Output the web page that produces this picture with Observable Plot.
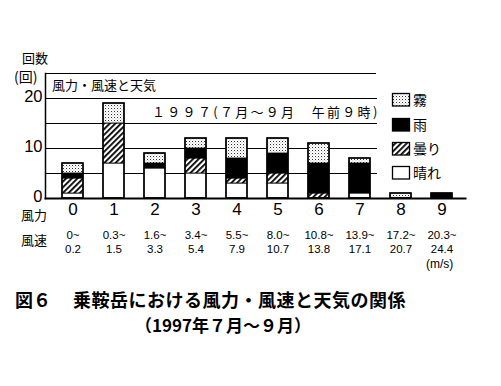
<!DOCTYPE html>
<html><head><meta charset="utf-8">
<script src="https://cdn.jsdelivr.net/npm/d3@7"></script>
<script src="https://cdn.jsdelivr.net/npm/@observablehq/plot@0.6"></script>
<style>
body{margin:0;background:#fff;}
#wrap{position:relative;width:501px;height:386px;font-family:"Noto Sans CJK JP",sans-serif;color:#000;overflow:hidden;}
#wrap svg.main{position:absolute;left:0;top:0;}
.t{position:absolute;white-space:nowrap;line-height:1;}
</style></head><body><div id="wrap"></div>
<script>
// ---- data ----
const forces = ["0","1","2","3","4","5","6","7","8","9"];
const speeds = ["0~\n0.2","0.3~\n1.5","1.6~\n3.3","3.4~\n5.4","5.5~\n7.9","8.0~\n10.7","10.8~\n13.8","13.9~\n17.1","17.2~\n20.7","20.3~\n24.4"];
const weatherTypes = ["晴れ","曇り","雨","霧"];
const clearDays  = [1,7,6,5,3,3,0,1,0,0];
const cloudyDays = [3,8,0,3,1,2,1,0,0,0];
const rainDays   = [1,0,1,2,4,4,6,6,0,1];
const fogDays    = [2,4,2,2,4,3,4,1,1,0];
const yTicks = [0,10,20];
const gridTicks = [5,10,15,20];
const legendOrder = ["霧","雨","曇り","晴れ"];

const series = [clearDays, cloudyDays, rainDays, fogDays];
const table = [];
forces.forEach((f,i)=>weatherTypes.forEach((w,j)=>{ if(series[j][i]>0) table.push({force:f,type:w,count:series[j][i]}); }));
const totals = forces.map((f,i)=>({force:f,total:series.reduce((s,a)=>s+a[i],0)}));
const fills = {"晴れ":"white","曇り":"url(#hatch)","雨":"black","霧":"url(#dots)"};

const numFont = '"Liberation Sans", Arial, sans-serif';
const plot = Plot.plot({
  width: 501, height: 386,
  marginLeft: 45, marginRight: 36, marginTop: 73, marginBottom: 188,
  className: "main",
  style: {fontFamily: numFont, color: "black", background: "transparent"},
  x: {type: "band", domain: forces, range: [50.35, 463.35], paddingInner: 0.49, paddingOuter: 0.245, axis: null, label: null},
  y: {domain: [0, 25], axis: null, label: null},
  color: {type: "ordinal", domain: weatherTypes, range: weatherTypes.map(w=>fills[w])},
  marks: [
    Plot.ruleY(gridTicks, {stroke: "black", strokeWidth: 1, insetRight: 88}),
    Plot.frame({anchor: "top", stroke: "black", strokeWidth: 1, insetRight: 90}),
    Plot.frame({anchor: "left", stroke: "black", strokeWidth: 1.5}),
    Plot.barY(table, Plot.stackY({x: "force", y: "count", fill: "type", order: weatherTypes, stroke: "black", strokeWidth: 0.8})),
    Plot.barY(totals, {x: "force", y: "total", fill: "none", stroke: "black", strokeWidth: 1.6}),
    Plot.frame({anchor: "bottom", stroke: "black", strokeWidth: 2}),
    Plot.axisY(yTicks, {tickSize: 0, tickPadding: 3, fontSize: 16.5, dy: -1.5, label: null}),
    Plot.axisX({tickSize: 0, tickPadding: 4, fontSize: 17, label: null}),
    Plot.axisX({tickSize: 0, tickPadding: 30, fontSize: 11.5, lineHeight: 1.25, label: null,
      fontFamily: '"Liberation Sans Narrow", "Liberation Sans", sans-serif',
      tickFormat: d => speeds[forces.indexOf(d)]})
  ]
});

// patterns
const svg = d3.select(plot);
const defs = svg.insert("defs", ":first-child");
const dots = defs.append("pattern").attr("id","dots").attr("patternUnits","userSpaceOnUse").attr("width",3).attr("height",3);
dots.append("rect").attr("width",3).attr("height",3).attr("fill","white");
dots.append("rect").attr("x",0).attr("y",0).attr("width",1).attr("height",1).attr("fill","#333");
dots.append("rect").attr("x",1.5).attr("y",1.5).attr("width",0.8).attr("height",0.8).attr("fill","#888");
const hatch = defs.append("pattern").attr("id","hatch").attr("patternUnits","userSpaceOnUse").attr("width",4).attr("height",4).attr("patternTransform","rotate(45)");
hatch.append("rect").attr("width",4).attr("height",4).attr("fill","white");
hatch.append("rect").attr("x",0).attr("y",0).attr("width",1.8).attr("height",4).attr("fill","black");

const wrap = document.getElementById("wrap");
wrap.appendChild(plot);

function addText(txt, left, top, size, extra) {
  const d = document.createElement("div");
  d.className = "t"; d.textContent = txt;
  d.style.left = left + "px"; d.style.top = top + "px"; d.style.fontSize = size + "px";
  if (extra) Object.assign(d.style, extra);
  wrap.appendChild(d);
  return d;
}
addText("回数", 22, 51, 13);
addText("(回)", 14, 69, 14);
addText("風力・風速と天気", 52, 78, 13);
addText("１９９７(７月～９月　午前９時)", 152, 105, 13, {letterSpacing: "2.3px"});
addText("風力", 21, 208, 13);
addText("風速", 21, 233, 13);
addText("(m/s)", 426, 258, 12, {fontFamily: numFont});
addText("図６", 15, 290, 18, {fontWeight: "bold"});
addText("乗鞍岳における風力・風速と天気の関係", 73, 290, 18, {fontWeight: "bold", letterSpacing: "0.5px"});
addText("（1997年７月～９月）", 135, 316, 17, {fontWeight: "bold"});

// legend
const legendTops = {"霧":93,"雨":118,"曇り":142,"晴れ":166};
const ls = d3.select(wrap).append("svg").attr("width",501).attr("height",386)
  .style("position","absolute").style("left","0px").style("top","0px").style("pointer-events","none");
legendOrder.forEach(w => {
  ls.append("rect").attr("x",392.5).attr("y",legendTops[w]+0.5).attr("width",17).attr("height",12.5)
    .attr("fill",fills[w]).attr("stroke","black").attr("stroke-width",1.3);
  addText(w, 413, legendTops[w]-1, 14);
});
</script></body></html>
